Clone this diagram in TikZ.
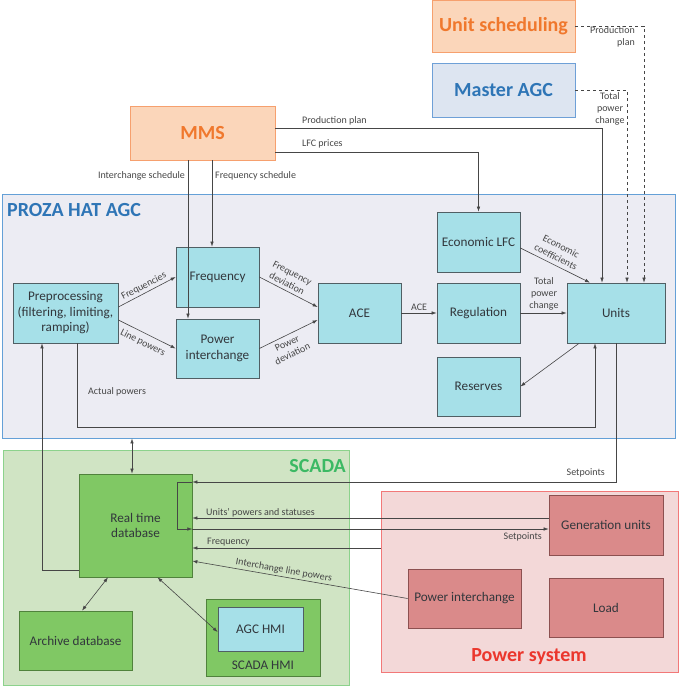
\documentclass[tikz,border=0pt]{standalone}
\usepackage{fontspec}
\setmainfont{Carlito}
\usetikzlibrary{arrows.meta}
\definecolor{cyanfill}{RGB}{166,224,232}
\definecolor{boxline}{RGB}{80,95,100}
\definecolor{txt}{RGB}{50,55,60}
\definecolor{lblc}{RGB}{70,70,70}
\definecolor{linec}{RGB}{70,70,70}
\definecolor{prozafill}{RGB}{236,236,243}
\definecolor{prozaline}{RGB}{100,160,215}
\definecolor{prozatxt}{RGB}{46,117,182}
\definecolor{scadafill}{RGB}{208,228,196}
\definecolor{scadaline}{RGB}{140,210,140}
\definecolor{scadatxt}{RGB}{60,185,100}
\definecolor{greenfill}{RGB}{128,200,100}
\definecolor{greenline}{RGB}{80,130,60}
\definecolor{psfill}{RGB}{243,216,216}
\definecolor{psline}{RGB}{242,120,120}
\definecolor{pstxt}{RGB}{235,55,45}
\definecolor{redfill}{RGB}{218,138,138}
\definecolor{redline}{RGB}{140,80,80}
\definecolor{orfill}{RGB}{251,214,186}
\definecolor{orline}{RGB}{246,160,110}
\definecolor{ortxt}{RGB}{240,120,45}
\definecolor{mafill}{RGB}{221,229,241}
\definecolor{maline}{RGB}{110,160,215}
\begin{document}
\begin{tikzpicture}[x=1pt,y=-1pt,
  box/.style={draw=boxline, fill=cyanfill, minimum width=83pt, minimum height=60pt, inner sep=1pt, font=\fontsize{13.2}{15.5}\selectfont, text=txt, align=center, line width=0.7pt},
  gbox/.style={box, fill=greenfill, draw=greenline},
  rbox/.style={box, fill=redfill, draw=redline, minimum width=114pt},
  cont/.style={minimum width=#1, inner sep=0pt, line width=0.8pt},
  lbl/.style={font=\fontsize{10}{12}\selectfont, text=lblc, inner sep=1pt, align=center},
  title/.style={font=\fontsize{20}{22}\selectfont\bfseries, inner sep=0pt},
  arr/.style={-{Latex[length=5pt,width=3.5pt]}, draw=linec, line width=0.6pt},
  darr/.style={{Latex[length=5pt,width=3.5pt]}-{Latex[length=5pt,width=3.5pt]}, draw=linec, line width=0.6pt},
  dasharr/.style={arr, dashed}
]
\useasboundingbox (0,0) rectangle (681,690);
% containers
\node[cont=673pt, minimum height=244pt, fill=prozafill, draw=prozaline] (proza) at (338.5,316) {};
\node[cont=346pt, minimum height=235pt, fill=scadafill, draw=scadaline] (scada) at (176,567.5) {};
\node[cont=297pt, minimum height=181pt, fill=psfill, draw=psline] (ps) at (529.5,581.5) {};
\node[title, text=prozatxt, anchor=west] (tproza) at (7,210) {PROZA HAT AGC};
\node[title, text=scadatxt, anchor=east] (tscada) at (346,466) {SCADA};
\node[title, text=pstxt] (tps) at (529,657) {Power system};
% top boxes
\node[cont=143pt, minimum height=52pt, fill=orfill, draw=orline, title, text=ortxt] (us) at (503.5,26) {Unit scheduling};
\node[cont=143pt, minimum height=54pt, fill=mafill, draw=maline, title, text=prozatxt] (ma) at (503.5,90) {Master AGC};
\node[cont=145pt, minimum height=54pt, fill=orfill, draw=orline, title, text=ortxt] (mms) at (202.5,133) {MMS};
% PROZA boxes
\node[box, minimum width=105pt] (pre) at (65.5,313) {Preprocessing\\(filtering, limiting,\\ramping)};
\node[box] (freq) at (217.5,277) {Frequency};
\node[box, minimum height=59pt] (pint) at (217.5,348.5) {Power\\interchange};
\node[box] (ace) at (359.5,313) {ACE};
\node[box] (elfc) at (478.5,242) {Economic LFC};
\node[box] (reg) at (478.5,313) {Regulation};
\node[box, minimum height=59pt] (res) at (478.5,386.5) {Reserves};
\node[box, minimum width=98pt] (units) at (616,313) {Units};
% SCADA boxes
\node[gbox, minimum width=113pt, minimum height=103pt] (rtdb) at (135.5,525.5) {Real time\\database};
\node[gbox, minimum width=113pt, minimum height=59pt] (arch) at (75.5,640.5) {Archive database};
\node[gbox, minimum width=114pt, minimum height=77pt] (shmi) at (263,637.5) {};
\node[lbl, font=\fontsize{13.2}{15}\selectfont, text=txt] (tshmi) at (263,665) {SCADA HMI};
\node[box, minimum width=85pt, minimum height=44pt] (agc) at (260.5,629) {AGC HMI};
% Power system boxes
\node[rbox] (gen) at (606,525) {Generation units};
\node[rbox, minimum width=113pt, minimum height=59pt] (pi) at (464.5,598.5) {Power interchange};
\node[rbox, minimum height=59pt] (load) at (606,607.5) {Load};
% coordinates
\coordinate (xis) at (188,0);
\coordinate (xfs) at (212,0);
\coordinate (xdb) at (132,0);
% dashed from top
\draw[dasharr] (us.east) -| ([xshift=28]units.north);
\draw[dasharr] (ma.east) -| ([xshift=11]units.north);
\node[lbl, anchor=north east, align=right] (lpp1) at (636,25) {Production\\plan};
\node[lbl, anchor=north] (ltpc1) at (610,91) {Total\\power\\change};
% MMS connectors
\draw[arr] ([yshift=5]mms.east) -| ([xshift=-14]units.north);
\node[lbl, anchor=west] (lpp2) at (301,121) {Production plan};
\draw[arr] ([yshift=-19]mms.east) -| (elfc.north);
\node[lbl, anchor=west] (llfc) at (301,144) {LFC prices};
\draw[arr] (mms.south -| xis) -- (pint.north -| xis);
\draw[arr] (mms.south -| xfs) -- (freq.north -| xfs);
\node[lbl, anchor=east] (lis) at (186,176) {Interchange schedule};
\node[lbl, anchor=west] (lfs) at (214,176) {Frequency schedule};
% PROZA connectors
\draw[arr] ([yshift=6]pre.east) -- node[lbl, sloped, above=1pt] {Frequencies} (freq.west);
\draw[arr] ([yshift=-7]pre.east) -- node[lbl, sloped, below=4pt] {Line powers} (pint.west);
\draw[arr] (freq.east) -- node[lbl, sloped, above=2pt, pos=0.42] {Frequency\\deviation} ([yshift=6]ace.west);
\draw[arr] (pint.east) -- node[lbl, sloped, below=3pt, pos=0.42] {Power\\deviation} ([yshift=-7]ace.west);
\draw[arr] (ace) -- node[lbl, above=1pt] {ACE} (reg);
\draw[arr] (reg) -- (units);
\node[lbl, anchor=south] (ltpc2) at (544,311) {Total\\power\\change};
\draw[arr] ([yshift=-6]elfc.east) -- node[lbl, sloped, above=3pt, pos=0.46] {Economic\\coefficients} ([xshift=-26]units.north);
\draw[arr] ([xshift=-37]units.south) -- (res.east);
\draw[arr] ([xshift=11.5]pre.south) -- ++(0,84) -| ([xshift=-21]units.south);
\node[lbl, anchor=west] (lap) at (87,392) {Actual powers};
% setpoints
\draw[arr] (units.south) |- ([yshift=43.5]rtdb.east);
\node[lbl, anchor=east] (lsp1) at (606,473) {Setpoints};
\draw[arr] ([yshift=43.5]rtdb.east) -- ++(-15,0) -- ++(0,47) -- ([yshift=-3.5]rtdb.east);
\draw[arr] ([yshift=-3.5]rtdb.east) -- ([yshift=-4]gen.west);
\node[lbl, anchor=east] (lsp2) at (543,537) {Setpoints};
\draw[arr] ([yshift=7]gen.west) -- ([yshift=7.5]rtdb.east);
\node[lbl, anchor=west] (lups) at (205,513) {Units’ powers and statuses};
\draw[arr] ([yshift=33.5]ps.west) -- ([yshift=-22.5]rtdb.east);
\node[lbl, anchor=west] (lfr) at (206,542) {Frequency};
\draw[arr] (pi.west) -- ([yshift=-35.5]rtdb.east);
\path ([yshift=-35.5]rtdb.east) -- node[lbl, sloped, above=1pt, pos=0.42] {Interchange line powers} (pi.west);
% SCADA connectors
\draw[darr] (rtdb.north -| xdb) -- (proza.south -| xdb);
\draw[arr] ([yshift=-44.5]rtdb.west) -| ([xshift=-23.5]pre.south);
\draw[darr] ([xshift=-27.5]rtdb.south) -- ([xshift=6.5]arch.north);
\draw[darr] ([xshift=22]rtdb.south) -- ([yshift=-3]agc.west);
\end{tikzpicture}
\end{document}
